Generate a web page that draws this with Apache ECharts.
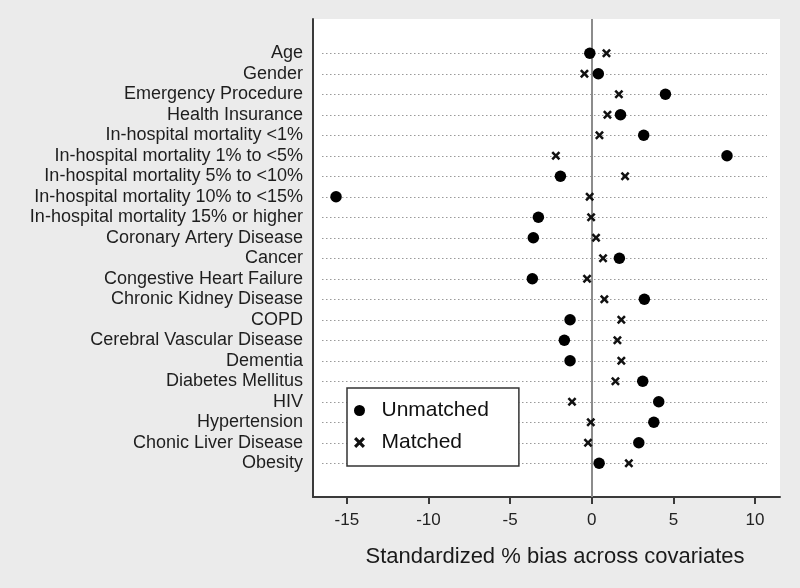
<!DOCTYPE html>
<html>
<head>
<meta charset="utf-8">
<script src="https://cdn.jsdelivr.net/npm/echarts@6/dist/echarts.min.js"></script>
<style>html,body{margin:0;padding:0;background:#ebebeb;}#c{width:800px;height:588px;}</style>
</head>
<body>
<div id="c"></div>
<script>
const categories = [
  "Age", "Gender", "Emergency Procedure", "Health Insurance",
  "In-hospital mortality <1%", "In-hospital mortality 1% to <5%",
  "In-hospital mortality 5% to <10%", "In-hospital mortality 10% to <15%",
  "In-hospital mortality 15% or higher", "Coronary Artery Disease", "Cancer",
  "Congestive Heart Failure", "Chronic Kidney Disease", "COPD",
  "Cerebral Vascular Disease", "Dementia", "Diabetes Mellitus", "HIV",
  "Hypertension", "Chonic Liver Disease", "Obesity"
];
const unmatched = [-0.12, 0.40, 4.51, 1.76, 3.18, 8.28, -1.92, -15.66, -3.27, -3.58, 1.69, -3.64, 3.22, -1.33, -1.68, -1.33, 3.12, 4.10, 3.80, 2.88, 0.45];
const matched   = [0.90, -0.45, 1.66, 0.96, 0.47, -2.20, 2.04, -0.13, -0.04, 0.26, 0.69, -0.29, 0.77, 1.81, 1.57, 1.81, 1.45, -1.21, -0.06, -0.23, 2.27];
const xTicks = [-15, -10, -5, 0, 5, 10];

const crossPath = 'path://M2,0 L5,3 L8,0 L10,2 L7,5 L10,8 L8,10 L5,7 L2,10 L0,8 L3,5 L0,2 Z';
const font = 'Liberation Sans, Arial, Helvetica, sans-serif';

const chart = echarts.init(document.getElementById('c'), null, {renderer: 'canvas'});
chart.setOption({
  backgroundColor: '#ebebeb',
  animation: false,
  textStyle: {fontFamily: font},
  grid: [
    {left: 313, right: 20, top: 19, bottom: 91, show: true, backgroundColor: '#ffffff', borderWidth: 0},
    {left: 322, right: 33, top: 53.3, bottom: 124.7}
  ],
  xAxis: [
    {
      type: 'value', gridIndex: 0, min: -17.07, max: 11.53,
      axisLine: {show: true, onZero: false, lineStyle: {color: '#3a3a3a', width: 2}},
      axisTick: {show: true, length: 7, customValues: xTicks, lineStyle: {color: '#3a3a3a', width: 2}},
      axisLabel: {customValues: xTicks, fontSize: 17, color: '#222', margin: 15, fontFamily: font},
      splitLine: {show: false},
      name: 'Standardized % bias across covariates',
      nameLocation: 'middle', nameGap: 49,
      nameTextStyle: {fontSize: 22, color: '#1a1a1a', fontFamily: font, padding: [0, 0, 0, 17]}
    },
    {
      type: 'value', gridIndex: 1, min: -16.52, max: 10.73, show: false
    }
  ],
  yAxis: [
    {
      type: 'value', gridIndex: 0, min: 0, max: 1,
      axisLine: {show: true, onZero: false, lineStyle: {color: '#3a3a3a', width: 2}},
      axisTick: {show: false}, axisLabel: {show: false}, splitLine: {show: false}
    },
    {
      type: 'category', gridIndex: 1, data: categories, inverse: true, boundaryGap: false,
      axisLine: {show: false}, axisTick: {show: false, interval: 0},
      axisLabel: {interval: 0, fontSize: 18, color: '#1e1e1e', margin: 19, fontFamily: font},
      splitLine: {show: true, interval: 0, lineStyle: {color: '#9a9a9a', width: 1.2, type: [1.5, 2.5]}}
    }
  ],
  legend: {
    orient: 'vertical', left: 347, top: 388,
    padding: [12, 30, 13, 7], itemGap: 11,
    itemWidth: 14, itemHeight: 11,
    backgroundColor: '#ffffff', borderColor: '#333', borderWidth: 1.5, borderRadius: 0,
    textStyle: {fontSize: 21, color: '#111', fontFamily: font, padding: [0, 0, 0, 10], lineHeight: 20},
    data: [
      {name: 'Unmatched', icon: 'circle'},
      {name: 'Matched', icon: crossPath}
    ]
  },
  series: [
    {
      type: 'scatter', xAxisIndex: 0, yAxisIndex: 0, data: [], silent: true,
      markLine: {
        silent: true, symbol: 'none', label: {show: false},
        lineStyle: {color: '#8c8c8c', width: 2, type: 'solid'},
        data: [{xAxis: 0}]
      }
    },
    {
      name: 'Unmatched', type: 'scatter', xAxisIndex: 1, yAxisIndex: 1,
      symbol: 'circle', symbolSize: 11.5, z: 5,
      itemStyle: {color: '#000', opacity: 1},
      data: unmatched.map((v, i) => [v, categories[i]])
    },
    {
      name: 'Matched', type: 'scatter', xAxisIndex: 1, yAxisIndex: 1,
      symbol: crossPath, symbolSize: 9, z: 6,
      itemStyle: {color: '#111', opacity: 1},
      data: matched.map((v, i) => [v, categories[i]])
    }
  ]
});
</script>
</body>
</html>
